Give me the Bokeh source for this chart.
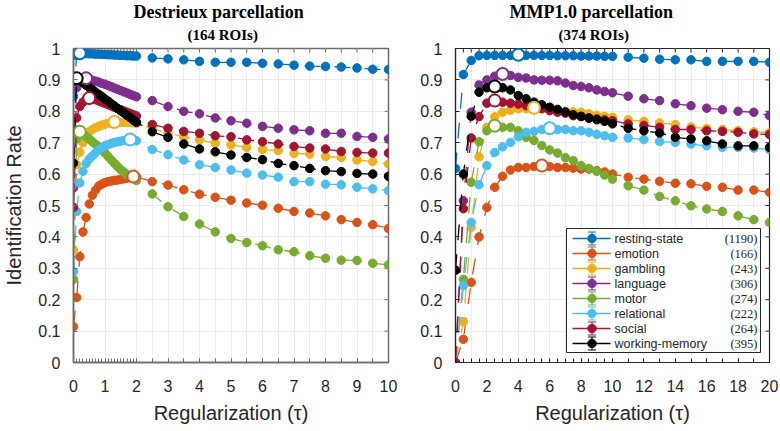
import numpy as np
from bokeh.plotting import figure
from bokeh.layouts import row
from bokeh.models import Range1d, FixedTicker, LinearAxis, Grid, Title
from bokeh.embed import file_html
from bokeh.resources import INLINE
from bokeh.core.properties import value

# ---------------- data ----------------
TASKS = ["resting-state", "emotion", "gambling", "language", "motor",
         "relational", "social", "working-memory"]
COUNTS = ["(1190)", "(166)", "(243)", "(306)", "(274)", "(222)", "(264)", "(395)"]
COLORS = ["#0072BD", "#D95319", "#EDB120", "#7E2F8E", "#77AC30",
          "#4DBEEE", "#A2142F", "#000000"]

# Destrieux parcellation (164 ROIs)
TAU_D = [0.0, 0.1, 0.2, 0.3, 0.4, 0.5, 0.6, 0.7, 0.8, 0.9, 1.0, 1.1, 1.2, 1.3,
         1.4, 1.5, 1.6, 1.7, 1.8, 1.9, 2.0, 2.5, 3.0, 3.5, 4.0, 4.5, 5.0, 5.5,
         6.0, 6.5, 7.0, 7.5, 8.0, 8.5, 9.0, 9.5, 10.0]
REST_D = [0.848, 0.978, 0.985, 0.984, 0.984, 0.983, 0.983, 0.982, 0.982, 0.981, 0.981,
          0.980, 0.980, 0.979, 0.979, 0.978, 0.978, 0.977, 0.977, 0.976, 0.976,
          0.970, 0.967, 0.964, 0.959, 0.956, 0.956, 0.956, 0.953, 0.951, 0.947,
          0.944, 0.943, 0.941, 0.938, 0.934, 0.933]
EMO_D = [0.114, 0.207, 0.337, 0.416, 0.462, 0.505, 0.533, 0.549, 0.562, 0.568, 0.573,
         0.576, 0.578, 0.580, 0.581, 0.583, 0.585, 0.587, 0.589, 0.592, 0.591,
         0.576, 0.565, 0.550, 0.536, 0.526, 0.517, 0.508, 0.501, 0.491, 0.481,
         0.476, 0.467, 0.455, 0.446, 0.439, 0.427]
GAMB_D = [0.359, 0.630, 0.670, 0.700, 0.720, 0.735, 0.742, 0.748, 0.752, 0.756, 0.759,
          0.761, 0.763, 0.766, 0.765, 0.765, 0.765, 0.764, 0.764, 0.763, 0.762,
          0.745, 0.730, 0.719, 0.709, 0.699, 0.693, 0.685, 0.678, 0.675, 0.666,
          0.664, 0.656, 0.653, 0.645, 0.640, 0.632]
LANG_D = [0.556, 0.875, 0.892, 0.900, 0.905, 0.902, 0.899, 0.896, 0.893, 0.889, 0.886,
          0.882, 0.878, 0.874, 0.870, 0.866, 0.862, 0.858, 0.854, 0.850, 0.846,
          0.834, 0.815, 0.800, 0.792, 0.779, 0.770, 0.762, 0.752, 0.746, 0.741,
          0.738, 0.730, 0.730, 0.720, 0.717, 0.712]
MOTOR_D = [0.265, 0.712, 0.735, 0.728, 0.720, 0.712, 0.703, 0.695, 0.688, 0.678, 0.667,
           0.656, 0.645, 0.634, 0.624, 0.614, 0.607, 0.598, 0.592, 0.586, 0.580,
           0.537, 0.496, 0.465, 0.441, 0.416, 0.395, 0.382, 0.372, 0.359, 0.353,
           0.340, 0.332, 0.326, 0.325, 0.316, 0.311]
REL_D = [0.290, 0.481, 0.572, 0.609, 0.634, 0.648, 0.658, 0.668, 0.677, 0.684, 0.690,
         0.694, 0.698, 0.701, 0.703, 0.705, 0.707, 0.708, 0.710, 0.709, 0.706,
         0.678, 0.662, 0.645, 0.630, 0.621, 0.613, 0.603, 0.597, 0.590, 0.576,
         0.576, 0.568, 0.566, 0.558, 0.553, 0.547]
SOC_D = [0.494, 0.779, 0.815, 0.829, 0.838, 0.842, 0.840, 0.837, 0.833, 0.829, 0.825,
         0.821, 0.817, 0.813, 0.809, 0.805, 0.801, 0.797, 0.793, 0.789, 0.785,
         0.758, 0.746, 0.736, 0.730, 0.722, 0.719, 0.709, 0.703, 0.696, 0.688,
         0.683, 0.680, 0.672, 0.669, 0.667, 0.667]
WM_D = [0.635, 0.905, 0.898, 0.891, 0.883, 0.876, 0.869, 0.861, 0.854, 0.847, 0.839,
        0.832, 0.824, 0.817, 0.809, 0.802, 0.795, 0.787, 0.780, 0.772, 0.765,
        0.735, 0.717, 0.696, 0.680, 0.671, 0.661, 0.653, 0.646, 0.634, 0.627,
        0.618, 0.611, 0.608, 0.602, 0.600, 0.593]

# MMP1.0 parcellation (374 ROIs)
TAU_M = [0.0, 0.5, 1.0, 1.5, 2.0, 2.5, 3.0, 3.5, 4.0, 4.5, 5.0, 5.5, 6.0, 6.5, 7.0,
         7.5, 8.0, 8.5, 9.0, 9.5, 10.0, 11.0, 12.0, 13.0, 14.0, 15.0, 16.0, 17.0,
         18.0, 19.0, 20.0]
REST_M = [0.618, 0.917, 0.962, 0.977, 0.978, 0.978, 0.978, 0.978, 0.980, 0.978, 0.978,
          0.978, 0.978, 0.977, 0.977, 0.977, 0.976, 0.976, 0.976, 0.975, 0.975,
          0.972, 0.969, 0.966, 0.964, 0.964, 0.959, 0.959, 0.959, 0.959, 0.956]
EMO_M = [0.000, 0.074, 0.255, 0.400, 0.494, 0.558, 0.593, 0.613, 0.621, 0.621, 0.624,
         0.627, 0.624, 0.621, 0.621, 0.619, 0.616, 0.616, 0.611, 0.607, 0.600,
         0.590, 0.584, 0.577, 0.571, 0.569, 0.561, 0.558, 0.549, 0.549, 0.542]
GAMB_M = [0.000, 0.130, 0.430, 0.655, 0.749, 0.783, 0.797, 0.803, 0.808, 0.808, 0.811,
          0.810, 0.805, 0.803, 0.800, 0.798, 0.797, 0.792, 0.787, 0.784, 0.781,
          0.773, 0.768, 0.763, 0.758, 0.750, 0.745, 0.742, 0.738, 0.735, 0.732]
LANG_M = [0.000, 0.515, 0.797, 0.884, 0.900, 0.912, 0.919, 0.914, 0.908, 0.906, 0.900,
          0.899, 0.899, 0.897, 0.890, 0.882, 0.879, 0.875, 0.868, 0.863, 0.859,
          0.848, 0.840, 0.834, 0.824, 0.818, 0.810, 0.805, 0.800, 0.797, 0.786]
MOTOR_M = [0.000, 0.265, 0.574, 0.703, 0.738, 0.754, 0.749, 0.749, 0.738, 0.717, 0.707,
           0.691, 0.677, 0.667, 0.652, 0.643, 0.627, 0.618, 0.609, 0.597, 0.584,
           0.563, 0.549, 0.529, 0.515, 0.499, 0.489, 0.481, 0.467, 0.455, 0.446]
REL_M = [0.000, 0.245, 0.446, 0.566, 0.627, 0.669, 0.687, 0.701, 0.719, 0.733, 0.736,
         0.742, 0.746, 0.742, 0.742, 0.738, 0.738, 0.733, 0.727, 0.722, 0.717,
         0.715, 0.710, 0.704, 0.701, 0.696, 0.690, 0.685, 0.685, 0.683, 0.678]
SOC_M = [0.000, 0.490, 0.715, 0.783, 0.826, 0.834, 0.829, 0.826, 0.823, 0.818, 0.813,
         0.808, 0.802, 0.797, 0.794, 0.786, 0.783, 0.778, 0.776, 0.773, 0.770,
         0.760, 0.755, 0.749, 0.742, 0.742, 0.738, 0.736, 0.733, 0.728, 0.726]
WM_M = [0.294, 0.600, 0.784, 0.861, 0.875, 0.879, 0.875, 0.868, 0.850, 0.840, 0.829,
        0.821, 0.813, 0.806, 0.798, 0.789, 0.784, 0.779, 0.773, 0.768, 0.760,
        0.746, 0.738, 0.731, 0.717, 0.712, 0.706, 0.696, 0.690, 0.690, 0.685]

SERIES_D = [REST_D, EMO_D, GAMB_D, LANG_D, MOTOR_D, REL_D, SOC_D, WM_D]
SERIES_M = [REST_M, EMO_M, GAMB_M, LANG_M, MOTOR_M, REL_M, SOC_M, WM_M]

XLABELS_D = [0, 1, 2, 3, 4, 5, 6, 7, 8, 9, 10]
XLABELS_M = [0, 2, 4, 6, 8, 10, 12, 14, 16, 18, 20]
XGRID_D = [0, 1, 2, 2.5, 3, 3.5, 4, 4.5, 5, 5.5, 6, 6.5, 7, 7.5, 8, 8.5, 9, 9.5, 10]
XGRID_M = [0, 1, 2, 3, 4, 5, 6, 7, 8, 9, 10, 11, 12, 13, 14, 15, 16, 17, 18, 19, 20]
Y_TICKS = [0.0, 0.1, 0.2, 0.3, 0.4, 0.5, 0.6, 0.7, 0.8, 0.9, 1.0]
Y_TICK_LABELS = ["0", "0.1", "0.2", "0.3", "0.4", "0.5", "0.6", "0.7", "0.8", "0.9", "1"]

# ---------------- style ----------------
SANS = "Liberation Sans"
SERIF = "Liberation Serif"
INK = "#262626"
GRID = "#ececec"
H = 431
FH = 314
TICK = 4


def build(tau, series, xmax, xlabels, xgrid, width, mbl, mbr, axis_color, axis_w,
          title, subtitle, title_off, sub_off, show_ylabel, show_legend):
    fw = width - mbl - mbr
    p = figure(width=width, height=H, x_range=Range1d(0, xmax), y_range=Range1d(0, 1),
               output_backend="svg", toolbar_location=None,
               x_axis_type=None, y_axis_type=None,
               min_border_left=mbl, min_border_right=mbr,
               min_border_top=48, min_border_bottom=69)
    p.outline_line_color = axis_color
    p.outline_line_width = axis_w
    p.background_fill_color = "white"
    p.border_fill_color = "white"

    def make_axis(ticker, standoff, overrides=None):
        ax = LinearAxis(ticker=ticker, axis_line_color=axis_color, axis_line_width=axis_w,
                        major_tick_line_color=axis_color, minor_tick_line_color=axis_color,
                        major_tick_in=TICK, major_tick_out=0, minor_tick_in=TICK,
                        minor_tick_out=0,
                        major_label_text_font=SANS, major_label_text_font_size="16px",
                        major_label_text_color=INK, major_label_standoff=standoff,
                        axis_label_text_font=SANS, axis_label_text_font_size="20px",
                        axis_label_text_font_style="normal", axis_label_text_color=INK)
        if overrides is not None:
            ax.major_label_overrides = overrides
        return ax

    xt = FixedTicker(ticks=xlabels, minor_ticks=tau)
    yt = FixedTicker(ticks=Y_TICKS, minor_ticks=[])
    xaxis = make_axis(xt, 17)
    xaxis.axis_label = "Regularization (\u03c4)"
    xaxis.axis_label_standoff = 7
    p.add_layout(xaxis, "below")
    yaxis = make_axis(yt, 13, dict(zip(Y_TICKS, Y_TICK_LABELS)))
    if show_ylabel:
        yaxis.axis_label = "Identification Rate"
        yaxis.axis_label_standoff = 10
    p.add_layout(yaxis, "left")
    p.add_layout(Grid(dimension=0, ticker=FixedTicker(ticks=xgrid), grid_line_color=GRID))
    p.add_layout(Grid(dimension=1, ticker=FixedTicker(ticks=Y_TICKS), grid_line_color=GRID))

    # inward ticks on the top and right edges of the box (from the same tick lists)
    xticks_all = sorted(set(list(xlabels) + list(tau)))
    p.segment(x0=xticks_all, x1=xticks_all, y0=[1.0] * len(xticks_all),
              y1=[1.0 - TICK / FH] * len(xticks_all), line_color=axis_color, line_width=1)
    p.segment(x0=[xmax] * len(Y_TICKS), x1=[xmax - TICK * xmax / fw] * len(Y_TICKS),
              y0=Y_TICKS, y1=Y_TICKS, line_color=axis_color, line_width=1)

    for vals, c in zip(series, COLORS):
        p.line(tau, vals, line_color=c, line_width=1.3, line_dash="16 14")
        p.scatter(tau, vals, size=8.5, fill_color=c, line_color=c)
    for vals, c in zip(series, COLORS):
        i = int(np.argmax(vals))
        p.scatter([tau[i]], [vals[i]], size=12, fill_color="white", line_color=c,
                  line_width=2)

    # titles (subtitle first: closest to the frame)
    p.add_layout(Title(text=subtitle, align="left", offset=sub_off,
                       text_font=SERIF, text_font_style="bold", text_font_size="15px",
                       text_color="black", standoff=12), "above")
    p.add_layout(Title(text=title, align="left", offset=title_off,
                       text_font=SERIF, text_font_style="bold", text_font_size="18px",
                       text_color="black", standoff=-7), "above")

    if show_legend:
        p.extra_x_ranges["legend"] = Range1d(0, fw)
        p.extra_y_ranges["legend"] = Range1d(0, FH)
        kw = dict(x_range_name="legend", y_range_name="legend")
        n = len(TASKS)
        rows = [124 - 15 * k for k in range(n)]
        p.quad(left=[111], right=[305], bottom=[10], top=[134], fill_color="white",
               line_color=INK, line_width=1, **kw)
        p.segment(x0=[117] * n, x1=[155] * n, y0=rows, y1=rows, line_color=COLORS,
                  line_width=1.3, **kw)
        p.segment(x0=[136.5] * n, x1=[136.5] * n, y0=[r - 6.5 for r in rows],
                  y1=[r + 6.5 for r in rows], line_color=COLORS, line_width=1, **kw)
        for d in (-6.5, 6.5):
            p.segment(x0=[132.5] * n, x1=[140.5] * n, y0=[r + d for r in rows],
                      y1=[r + d for r in rows], line_color=COLORS, line_width=1, **kw)
        p.scatter(x=[136.5] * n, y=rows, size=8.5, fill_color=COLORS, line_color=COLORS, **kw)
        p.text(x=[159] * n, y=rows, text=TASKS, text_font=value(SANS),
               text_font_size="12.5px", text_baseline="middle", text_color=INK, **kw)
        p.text(x=[302] * n, y=rows, text=COUNTS, text_font=value(SERIF),
               text_font_size="12.5px", text_baseline="middle", text_align="right",
               text_color=INK, **kw)
    return p


p1 = build(TAU_D, SERIES_D, 10, XLABELS_D, XGRID_D, 408, 73, 20, "#6b6b6b", 1.5,
           "Destrieux parcellation", "(164 ROIs)", 60, 114, True, False)
p2 = build(TAU_M, SERIES_M, 20, XLABELS_M, XGRID_M, 372, 47, 11, INK, 1.2,
           "MMP1.0 parcellation", "(374 ROIs)", 54, 103, False, True)

layout = row(p1, p2)
open("out.html", "w").write(file_html(layout, INLINE))
